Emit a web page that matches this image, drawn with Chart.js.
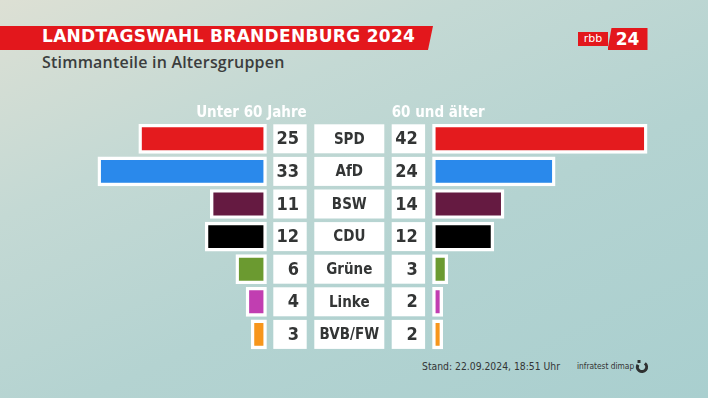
<!DOCTYPE html>
<html>
<head>
<meta charset="utf-8">
<script src="https://cdn.jsdelivr.net/npm/chart.js@4"></script>
<style>
  html, body { margin: 0; padding: 0; }
  body {
    width: 708px;
    height: 398px;
    overflow: hidden;
    position: relative;
    background: linear-gradient(155deg, #dde0d4 0%, #c4d9d4 30%, #b4d3d1 60%, #a9cfcf 100%);
    font-family: "DejaVu Sans", sans-serif;
  }
  #grafik { position: absolute; left: 0; top: 0; }
  .banner {
    position: absolute;
    left: 0; top: 26px;
    width: 433px; height: 24px;
    background: #e3171c;
    clip-path: polygon(0 0, 100% 0, calc(100% - 5px) 100%, 0 100%);
  }
  .titel {
    position: absolute;
    left: 42px; top: 26px;
    line-height: 24px;
    color: #fff;
    font: bold 17px "DejaVu Sans", sans-serif;
    letter-spacing: 0.3px;
    white-space: nowrap;
  }
  .untertitel {
    position: absolute;
    left: 42px; top: 51px;
    line-height: 22px;
    color: #3b3d3d;
    font: 600 16px "Open Sans", sans-serif;
    letter-spacing: 0.2px;
    white-space: nowrap;
  }
  .rbb {
    position: absolute;
    left: 578px; top: 32px;
    width: 30px; height: 14px;
    background: #e3171c;
    color: #fff;
    font: 11px "DejaVu Sans", sans-serif;
    line-height: 13px;
    text-align: center;
  }
  .vierundzwanzig {
    position: absolute;
    left: 607.5px; top: 28px;
    width: 40px; height: 22px;
    background: #e3171c;
    clip-path: polygon(4px 0, 100% 0, 100% 100%, 0 100%);
    color: #fff;
    font: bold 17px "DejaVu Sans", sans-serif;
    line-height: 22px;
    text-align: center;
  }
  .stand {
    position: absolute;
    left: 422px; top: 359px;
    color: #333535;
    font: 10.3px "DejaVu Sans Condensed", "DejaVu Sans", sans-serif;
    line-height: 14px;
    white-space: nowrap;
  }
  .institut {
    position: absolute;
    left: 577px; top: 360px;
    color: #333;
    font: 8.3px "DejaVu Sans Condensed", "DejaVu Sans", sans-serif;
    line-height: 12px;
    white-space: nowrap;
  }
</style>
</head>
<body>
<div class="banner"></div>
<div class="titel">LANDTAGSWAHL BRANDENBURG 2024</div>
<div class="untertitel">Stimmanteile in Altersgruppen</div>
<div class="rbb">rbb</div>
<div class="vierundzwanzig">24</div>
<div class="stand">Stand: 22.09.2024, 18:51 Uhr</div>
<div class="institut">infratest dimap</div>
<canvas id="grafik" width="708" height="398"></canvas>
<script>
// Daten
const parteien = ['SPD', 'AfD', 'BSW', 'CDU', 'Grüne', 'Linke', 'BVB/FW'];
const unter60 = [25, 33, 11, 12, 6, 4, 3];
const ab60 = [42, 24, 14, 12, 3, 2, 2];
const farben = ['#e41b1e', '#2a89eb', '#651a41', '#000000', '#6b9a30', '#c13eb1', '#f7961c'];
const kopfLinks = 'Unter 60 Jahre';
const kopfRechts = '60 und älter';

// Layout
const PX_PRO_PUNKT = 5.11;
const MITTE_X = 349.5;
const LUECKE = 83 / PX_PRO_PUNKT;   // halbe Lücke in der Mitte, in Prozentpunkten
const ZEILE = 29;
const schrift = '"DejaVu Sans Condensed", "DejaVu Sans", sans-serif';

let xMin = -MITTE_X / PX_PRO_PUNKT;
let xMax = xMin + 708 / PX_PRO_PUNKT;

// Kästen in der Mitte (Zahlen und Parteinamen)
const mittelKaesten = {
  id: 'mittelKaesten',
  afterDatasetsDraw(chart) {
    let ctx = chart.ctx;
    let x = chart.scales.x;
    let y = chart.scales.y;
    let cx = x.getPixelForValue(0);

    ctx.save();
    parteien.forEach((partei, i) => {
      let cy = y.getPixelForValue(i);
      let oben = cy - ZEILE / 2;

      ctx.fillStyle = '#ffffff';
      ctx.fillRect(cx - 76.2, oben, 33.4, ZEILE);
      ctx.fillRect(cx - 35.2, oben, 70, ZEILE);
      ctx.fillRect(cx + 42.2, oben, 33.4, ZEILE);

      ctx.fillStyle = '#333535';
      ctx.textBaseline = 'middle';
      ctx.font = 'bold 18px ' + schrift;
      ctx.textAlign = 'right';
      ctx.fillText(String(unter60[i]), cx - 50.5, cy + 1);
      ctx.fillText(String(ab60[i]), cx + 68.2, cy + 1);

      ctx.font = 'bold 15px ' + schrift;
      ctx.textAlign = 'center';
      ctx.fillText(partei, cx - 0.2, cy + 1);
    });

    // Spaltenköpfe
    let kopfY = y.getPixelForValue(0) - ZEILE / 2 - 11;
    ctx.fillStyle = '#ffffff';
    ctx.font = 'bold 15px ' + schrift;
    ctx.textAlign = 'right';
    ctx.fillText(kopfLinks, cx - 42.8, kopfY);
    ctx.textAlign = 'left';
    ctx.fillText(kopfRechts, cx + 42.2, kopfY);

    // infratest dimap Zeichen
    ctx.strokeStyle = '#2f3131';
    ctx.lineWidth = 3;
    ctx.beginPath();
    ctx.arc(642, 367, 4.6, -0.9, Math.PI + 0.5);
    ctx.stroke();
    ctx.fillStyle = '#2f3131';
    ctx.fillRect(637.5, 360, 3, 3);
    ctx.restore();
  }
};

let ctx = document.getElementById('grafik').getContext('2d');
new Chart(ctx, {
  type: 'bar',
  data: {
    labels: parteien,
    datasets: [{
      label: kopfLinks,
      data: unter60.map(v => [-LUECKE, -LUECKE - v]),
      backgroundColor: farben,
      borderColor: '#ffffff',
      borderWidth: 3.4,
      borderSkipped: false,
      barThickness: ZEILE,
      grouped: false
    }, {
      label: kopfRechts,
      data: ab60.map(v => [LUECKE, LUECKE + v]),
      backgroundColor: farben,
      borderColor: '#ffffff',
      borderWidth: 3.4,
      borderSkipped: false,
      barThickness: ZEILE,
      grouped: false
    }]
  },
  options: {
    indexAxis: 'y',
    responsive: false,
    animation: false,
    events: [],
    layout: {
      padding: { top: 122.5, bottom: 47.3, left: 0, right: 0 }
    },
    plugins: {
      legend: { display: false },
      tooltip: { enabled: false }
    },
    scales: {
      x: { type: 'linear', min: xMin, max: xMax, display: false },
      y: { type: 'category', display: false }
    }
  },
  plugins: [mittelKaesten]
});
</script>
</body>
</html>
